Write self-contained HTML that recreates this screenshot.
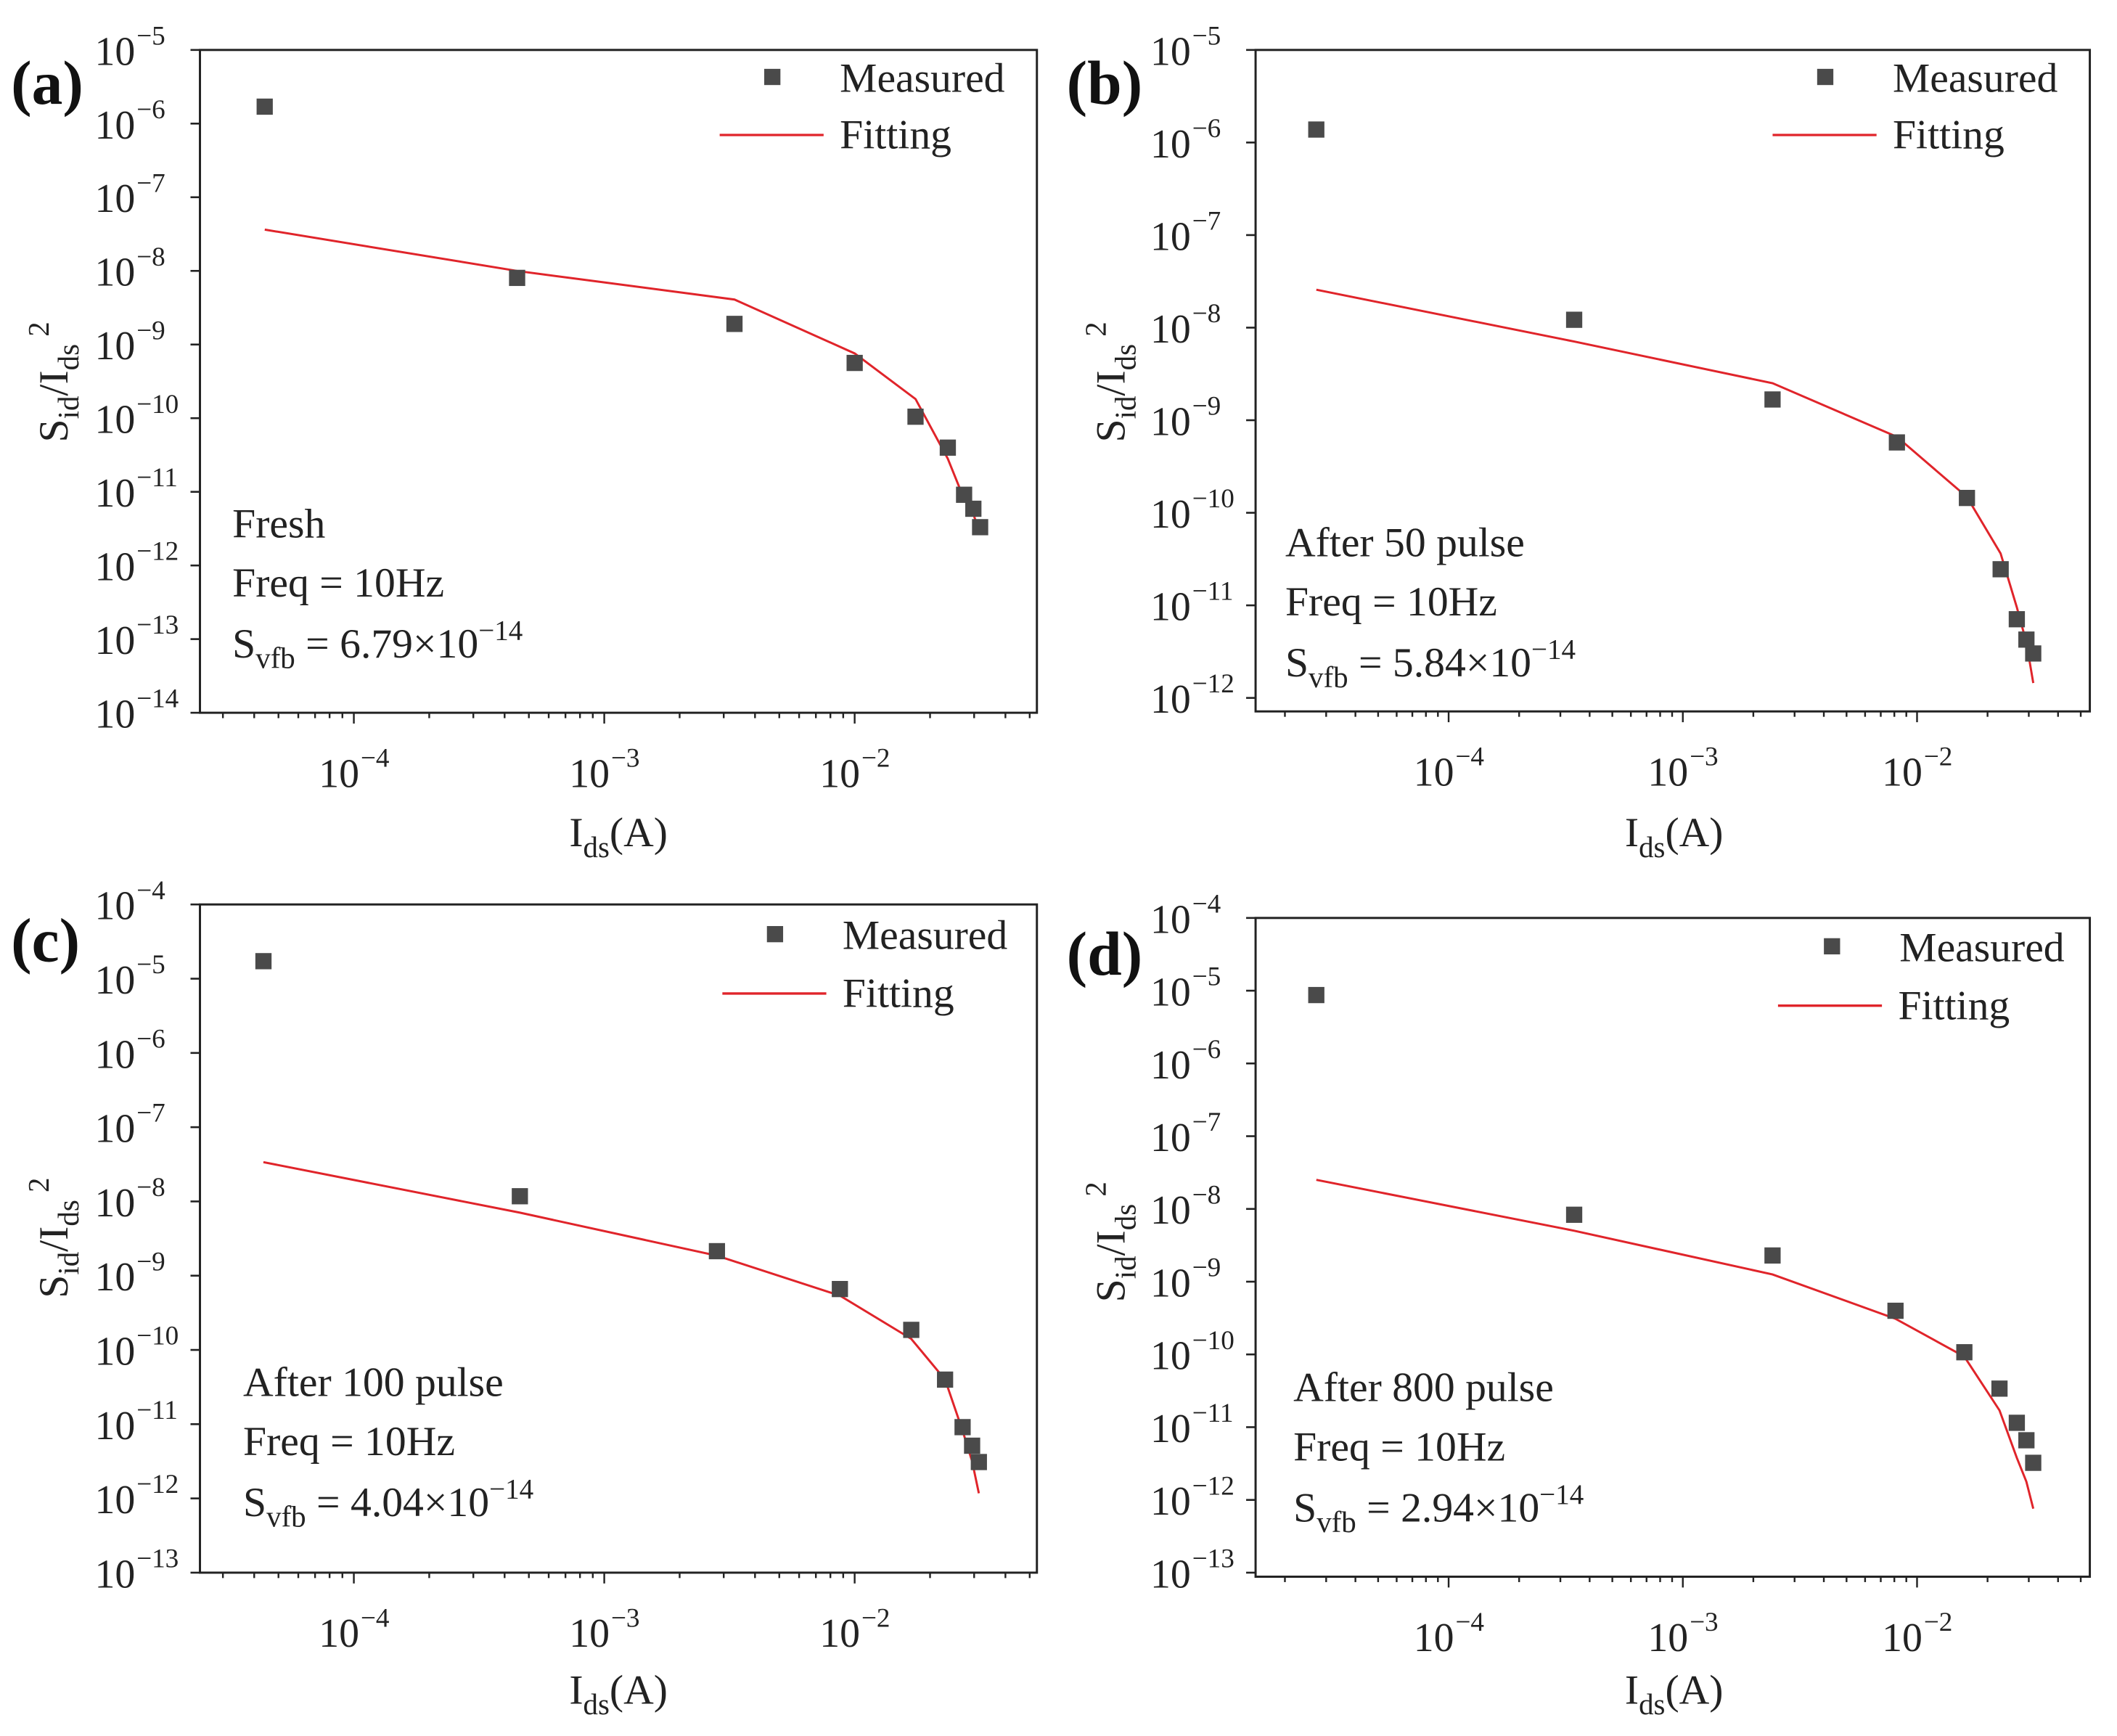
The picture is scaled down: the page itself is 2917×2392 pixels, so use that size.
<!DOCTYPE html>
<html><head><meta charset="utf-8"><style>
html,body{margin:0;padding:0;background:#fff;}
svg{display:block;font-family:"Liberation Serif","DejaVu Serif",serif;}
svg text{font-family:"Liberation Serif","DejaVu Serif",serif;}
</style></head><body>
<svg id="fig" width="2917" height="2392" viewBox="0 0 1568 1286" xmlns="http://www.w3.org/2000/svg"></svg>
<script>
// ---- data (log10 values) ----
const xA = [-4.356,-3.348,-2.480,-2.0,-1.757,-1.628,-1.563,-1.526,-1.499];
const measA = [-5.77,-8.095,-8.72,-9.25,-9.98,-10.40,-11.04,-11.23,-11.48];
const fitA = [-7.44,-8.0,-8.39,-9.12,-9.74,-10.55,-11.1,-11.3,-11.57];
const xB = [-4.565,-3.464,-2.617,-2.086,-1.787,-1.643,-1.574,-1.533,-1.504];
const measB = [-5.86,-7.915,-8.776,-9.24,-9.84,-10.61,-11.15,-11.37,-11.52];
const fitB = [-7.59,-8.15,-8.60,-9.18,-9.83,-10.44,-11.02,-11.40,-11.84];
const xC = [-4.361,-3.337,-2.550,-2.059,-1.774,-1.639,-1.569,-1.531,-1.504];
const measC = [-4.764,-7.93,-8.67,-9.18,-9.73,-10.40,-11.04,-11.29,-11.51];
const fitC = [-7.47,-8.15,-8.73,-9.27,-9.85,-10.40,-11.09,-11.50,-11.93];
const xD = [-4.565,-3.464,-2.617,-2.092,-1.798,-1.648,-1.574,-1.533,-1.504];
const measD = [-5.06,-8.08,-8.64,-9.40,-9.97,-10.47,-10.94,-11.18,-11.49];
const fitD = [-7.60,-8.30,-8.90,-9.51,-10.03,-10.77,-11.42,-11.75,-12.12];
const xTicks = [-4,-3,-2];
const labels = ["(a)","(b)","(c)","(d)"];
const notes = [["Fresh","6.79"],["After 50 pulse","5.84"],["After 100 pulse","4.04"],["After 800 pulse","2.94"]];

const NS="http://www.w3.org/2000/svg";
const svg=document.getElementById('fig');
const FF='Liberation Serif, DejaVu Serif, serif';
function mk(tag,attrs,parent){const e=document.createElementNS(NS,tag);for(const k in attrs)e.setAttribute(k,attrs[k]);if(tag==='text')e.setAttribute('font-family',FF);(parent||svg).appendChild(e);return e;}

const panels=[
 {id:'a',L:148,R:768,T:37,B:528,x4:262,xdec:185.5,ytop:-5,ybot:-14,yTopPx:37,yBotPx:528,xs:xA,m:measA,f:fitA,
  leg:[572,57,533,100],note:[172,398],lab:[8,77],xt:[458,627],yt:[42,283]},
 {id:'b',L:930,R:1548,T:37,B:527,x4:1073,xdec:173.5,ytop:-5,ybot:-12,yTopPx:37,yBotPx:517,xs:xB,m:measB,f:fitB,
  leg:[1352,57,1313,100],note:[952,412],lab:[790,77],xt:[1240,627],yt:[825,283]},
 {id:'c',L:148,R:768,T:670,B:1165,x4:262,xdec:185.5,ytop:-4,ybot:-13,yTopPx:670,yBotPx:1165,xs:xC,m:measC,f:fitC,
  leg:[574,692,535,736],note:[180,1034],lab:[8,712],xt:[458,1262],yt:[42,917]},
 {id:'d',L:930,R:1548,T:680,B:1168,x4:1073,xdec:173.5,ytop:-4,ybot:-13,yTopPx:680,yBotPx:1165,xs:xD,m:measD,f:fitD,
  leg:[1357,701,1317,745],note:[958,1038],lab:[790,722],xt:[1240,1262],yt:[825,920]}
];

panels.forEach((p,i)=>{
 const g=mk('g',{});
 
 
 const sx=v=>p.x4+(v+4)*p.xdec;
 const dy=(p.yBotPx-p.yTopPx)/(p.ytop-p.ybot);
 const sy=v=>p.yTopPx+(p.ytop-v)*dy;
 const frame=mk('rect',{x:p.L,y:p.T,width:p.R-p.L,height:p.B-p.T,fill:'none',stroke:'#222','stroke-width':1.6},g);
 
 
 for(let e=p.ytop;e>=p.ybot;e--){
  const y=sy(e);
  mk('line',{x1:p.L-7,x2:p.L,y1:y,y2:y,stroke:'#222','stroke-width':1.4},g);
  const t=mk('text',{x:p.L-48,y:y+11,'font-size':30,'text-anchor':'end',fill:'#222'},g);
  
  
  t.textContent='10';
  const s=mk('text',{x:p.L-47,y:y-4,'font-size':20,fill:'#222'},g);
  s.textContent='\u2212'+(-e);
 }
 const xmin=(p.L-p.x4)/p.xdec-4, xmax=(p.R-p.x4)/p.xdec-4;
 for(let d=-5;d<=-1;d++){
  for(let k=1;k<10;k++){
   const lv=d+Math.log10(k);
   if(lv<xmin||lv>xmax)continue;
   const x=sx(lv);
   mk('line',{x1:x,x2:x,y1:p.B,y2:p.B+(k===1?8:4),stroke:'#222','stroke-width':1.3},g);
  }
 }
 xTicks.forEach(e=>{
  const x=sx(e);
  const t=mk('text',{x:x+4,y:p.B+55,'font-size':30,'text-anchor':'end',fill:'#222'},g);
  
  
  t.textContent='10';
  const s=mk('text',{x:x+5,y:p.B+40,'font-size':20,fill:'#222'},g);
  s.textContent='\u2212'+(-e);
 });
 const pts=p.xs.map((x,j)=>sx(x).toFixed(1)+','+sy(p.f[j]).toFixed(1)).join(' ');
 const pl=mk('polyline',{points:pts,fill:'none',stroke:'#e0242a','stroke-width':1.6},g);
 
 
 p.xs.forEach((x,j)=>{
  const r=mk('rect',{x:sx(x)-6,y:sy(p.m[j])-6,width:12,height:12,fill:'#4a4a4a'},g);
  
  
 });
 const lg=mk('g',{},g);
 
 
 mk('rect',{x:p.leg[0]-6,y:p.leg[1]-6,width:12,height:12,fill:'#4a4a4a'},lg);
 const t1=mk('text',{x:p.leg[0]+50,y:p.leg[1]+11,'font-size':31,fill:'#222'},lg);t1.textContent='Measured';
 mk('line',{x1:p.leg[2],x2:p.leg[2]+77,y1:p.leg[3],y2:p.leg[3],stroke:'#e0242a','stroke-width':1.8},lg);
 const t2=mk('text',{x:p.leg[2]+89,y:p.leg[3]+10,'font-size':31,fill:'#222'},lg);t2.textContent='Fitting';
 const n=mk('g',{'font-size':31,fill:'#222'},g);
 
 
 const a1=mk('text',{x:p.note[0],y:p.note[1]},n);a1.textContent=notes[i][0];
 const a2=mk('text',{x:p.note[0],y:p.note[1]+44},n);a2.textContent='Freq = 10Hz';
 const a3=mk('text',{x:p.note[0],y:p.note[1]+89},n);
 a3.innerHTML='S<tspan font-size="22" dy="8">vfb</tspan><tspan dy="-8"> = '+notes[i][1]+'\u00d710</tspan><tspan font-size="21" dy="-13">\u221214</tspan>';
 const pl2=mk('text',{x:p.lab[0],y:p.lab[1],'font-size':46,'font-weight':'bold',fill:'#111'},g);
 
 
 pl2.textContent=labels[i];
 const xt=mk('text',{x:p.xt[0],y:p.xt[1],'font-size':31,'text-anchor':'middle',fill:'#222'},g);
 
 
 xt.innerHTML='I<tspan font-size="22" dy="8">ds</tspan><tspan dy="-8">(A)</tspan>';
 const yt=mk('text',{x:0,y:0,'font-size':31,'text-anchor':'middle',fill:'#222',transform:'translate('+(p.yt[0]+8)+','+p.yt[1]+') rotate(-90)'},g);
 
 
 yt.innerHTML='S<tspan font-size="22" dy="8">id</tspan><tspan dy="-8">/I</tspan><tspan font-size="22" dy="8">ds</tspan><tspan font-size="22" dy="-22"> 2</tspan>';
});
</script>
</body></html>
